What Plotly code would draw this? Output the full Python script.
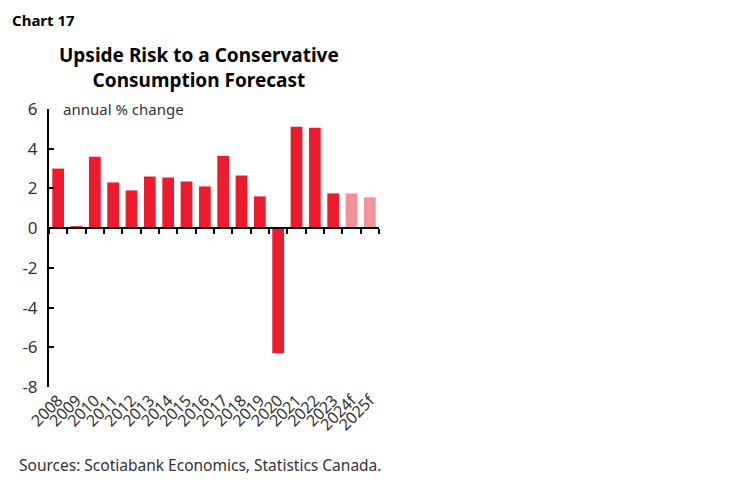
import plotly.graph_objects as go

# 年份与年度变化
years = ['2008', '2009', '2010', '2011', '2012', '2013', '2014', '2015', '2016',
         '2017', '2018', '2019', '2020', '2021', '2022', '2023', '2024f', '2025f']
values = [3.0, 0.1, 3.6, 2.3, 1.9, 2.6, 2.55, 2.35, 2.1,
          3.65, 2.65, 1.6, -6.3, 5.1, 5.05, 1.75, 1.75, 1.55]
is_forecast = [y.endswith('f') for y in years]
y_ticks = [-8, -6, -4, -2, 0, 2, 4, 6]
y_tick_text = ['-8', '-6', '-4', '-2', '0', '2', '4', '6']

red = '#EC1C2E'
pink = '#F4919B'
colors = [pink if f else red for f in is_forecast]

font = 'Noto Sans'
ymin, ymax = -8, 6

fig = go.Figure()
fig.add_trace(go.Bar(x=years, y=values, marker_color=colors,
                     marker_line_width=0, showlegend=False, hoverinfo='x+y'))

fig.update_layout(
    width=748, height=483,
    margin=dict(l=41, r=377, t=101, b=104),
    paper_bgcolor='white', plot_bgcolor='white',
    bargap=0.36,
    font=dict(family=font, size=15, color='#333333'),
    # 底部的年份标签
    xaxis=dict(type='category', categoryorder='array', categoryarray=years,
               range=[-0.5, len(years) - 0.5], showline=False, ticks='',
               tickmode='linear', dtick=1,
               tickangle=-45, tickfont=dict(size=16, color='#333333'),
               showgrid=False, zeroline=False, automargin=False),
    # 零线位置的轴线和刻度
    xaxis2=dict(type='category', categoryorder='array', categoryarray=years,
                overlaying='x', matches='x', anchor='free',
                position=(0 - ymin) / (ymax - ymin),
                tickmode='linear', dtick=1,
                showline=True, linecolor='black', linewidth=2,
                ticks='outside', tickson='boundaries', ticklen=5,
                tickwidth=2, tickcolor='black', automargin=False,
                showticklabels=False, showgrid=False, zeroline=False),
    yaxis=dict(range=[ymin, ymax], tickvals=y_ticks, ticktext=y_tick_text,
               showline=True, linecolor='black', automargin=False,
               linewidth=2, ticks='inside', ticklen=5, tickwidth=2,
               tickcolor='black', showgrid=False, zeroline=False,
               ticklabelstandoff=6,
               tickfont=dict(size=17, color='#333333')),
)
# 隐形轨迹用于显示 xaxis2
fig.add_trace(go.Scatter(x=years, y=[None] * len(years), xaxis='x2',
                         showlegend=False, hoverinfo='skip'))

fig.add_annotation(text='<b>Chart 17</b>', xref='paper', yref='paper',
                   x=-39 / 330, y=1 + 89 / 278, xanchor='left', yanchor='middle',
                   showarrow=False, font=dict(family=font, size=15, color='black'))
fig.add_annotation(text='<b>Upside Risk to a Conservative<br>Consumption Forecast</b>',
                   xref='paper', yref='paper', x=(199 - 49) / 330, y=1 + 42 / 278,
                   xanchor='center', yanchor='middle', showarrow=False,
                   font=dict(family=font, size=19, color='black'))
fig.add_annotation(text='annual % change', xref='paper', yref='paper',
                   x=12 / 330, y=1, xanchor='left', yanchor='middle',
                   showarrow=False, font=dict(family=font, size=15, color='#333333'))
fig.add_annotation(text='Sources: Scotiabank Economics, Statistics Canada.',
                   xref='paper', yref='paper', x=-32 / 330, y=-78 / 278,
                   xanchor='left', yanchor='middle', showarrow=False,
                   font=dict(family=font, size=15.5, color='#333333'))

fig.write_html('out.html')
